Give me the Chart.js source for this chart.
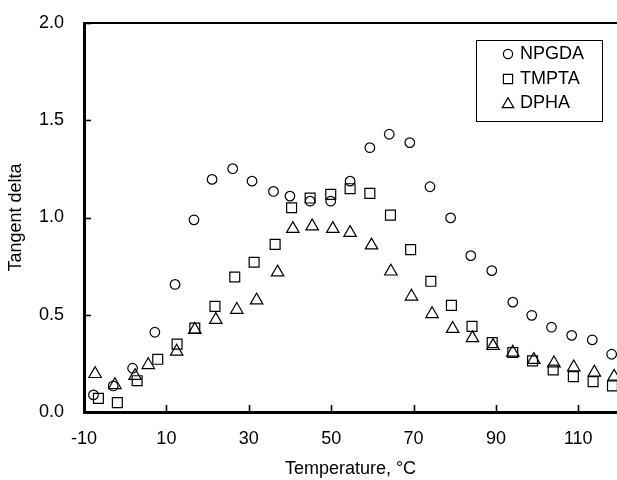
<!DOCTYPE html>
<html>
<head>
<meta charset="utf-8">
<script src="https://cdn.jsdelivr.net/npm/chart.js@4"></script>
<style>
html,body{margin:0;padding:0;background:#fff;overflow:hidden;}
#wrap{width:617px;height:480px;}
</style>
</head>
<body>
<div id="wrap"><canvas id="c" width="617" height="480"></canvas></div>
<script>
// Temperatures (°C) and tangent delta values
const npgdaT = [-7.7,-2.9,1.8,7.2,12.1,16.7,21.1,26.1,30.8,36.0,40.0,44.9,49.9,54.6,59.4,64.1,69.1,74.0,79.0,83.9,89.0,94.1,98.7,103.5,108.4,113.4,118.1];
const npgdaD = [0.088,0.134,0.225,0.41,0.656,0.988,1.196,1.251,1.187,1.134,1.11,1.084,1.084,1.187,1.359,1.428,1.385,1.158,0.998,0.804,0.727,0.565,0.497,0.436,0.394,0.371,0.297];

const tmptaT = [-6.5,-1.9,2.9,7.9,12.6,16.9,21.8,26.6,31.3,36.4,40.4,44.9,49.9,54.6,59.4,64.4,69.3,74.2,79.2,84.2,89.1,94.1,98.9,103.9,108.8,113.6,118.3];
const tmptaD = [0.07,0.048,0.161,0.271,0.349,0.431,0.543,0.694,0.77,0.862,1.05,1.10,1.119,1.148,1.124,1.012,0.835,0.672,0.548,0.44,0.357,0.306,0.263,0.216,0.182,0.156,0.134];

const dphaT = [-7.3,-2.5,2.4,5.6,12.5,16.9,22.0,27.1,31.9,37.0,40.7,45.4,50.4,54.6,59.8,64.5,69.5,74.5,79.5,84.3,89.3,94.1,99.2,104.1,108.9,113.9,118.7];
const dphaD = [0.196,0.139,0.186,0.242,0.311,0.423,0.474,0.526,0.574,0.718,0.942,0.955,0.942,0.921,0.857,0.723,0.594,0.504,0.428,0.38,0.34,0.306,0.268,0.251,0.23,0.203,0.182];

const seriesNames = ['NPGDA','TMPTA','DPHA'];
const xTickValues = [-10,10,30,50,70,90,110];
const yTickValues = [0,0.5,1.0,1.5,2.0];

const FONT = "'Liberation Sans', Arial, sans-serif";

function pts(xs, ys){ return xs.map((x,i)=>({x:x,y:ys[i]})); }

const styles = [
  {pointStyle:'circle', r:4.8},
  {pointStyle:'rect', r:7},
  {pointStyle:'triangle', r:7.2}
];
const raw = [[npgdaT,npgdaD],[tmptaT,tmptaD],[dphaT,dphaD]];

const datasets = raw.map((d,i)=>({
  label: seriesNames[i],
  data: pts(d[0], d[1]),
  pointStyle: styles[i].pointStyle,
  pointRadius: styles[i].r,
  pointHoverRadius: styles[i].r,
  pointBorderColor: '#000',
  pointBackgroundColor: 'rgba(0,0,0,0)',
  pointBorderWidth: 1.2,
  showLine: false
}));

const framePlugin = {
  id: 'frame',
  afterDraw(chart){
    const ctx = chart.ctx;
    const a = chart.chartArea;
    const xs = chart.scales.x, ys = chart.scales.y;
    ctx.save();
    ctx.strokeStyle = '#000';
    // top border
    ctx.lineWidth = 2;
    ctx.beginPath();
    ctx.moveTo(a.left, a.top);
    ctx.lineTo(a.right, a.top);
    ctx.stroke();
    // inward tick marks
    ctx.lineWidth = 1.6;
    xTickValues.forEach(v=>{
      const px = Math.round(xs.getPixelForValue(v)) + 0.5;
      ctx.beginPath();
      ctx.moveTo(px, a.bottom);
      ctx.lineTo(px, a.bottom - 7);
      ctx.stroke();
    });
    yTickValues.forEach(v=>{
      const py = Math.round(ys.getPixelForValue(v)) + 0.5;
      ctx.beginPath();
      ctx.moveTo(a.left, py);
      ctx.lineTo(a.left + 7, py);
      ctx.stroke();
    });
    // legend
    const bx = 476.5, by = 40.5, bw = 126, bh = 81;
    ctx.fillStyle = '#fff';
    ctx.fillRect(bx, by, bw, bh);
    ctx.lineWidth = 1;
    ctx.strokeRect(bx, by, bw, bh);
    const rowY = [54, 79, 103];
    ctx.font = '18px ' + FONT;
    ctx.textBaseline = 'middle';
    ctx.textAlign = 'left';
    chart.data.datasets.forEach((ds,i)=>{
      ctx.lineWidth = 1.2;
      ctx.strokeStyle = '#000';
      const mx = 508, my = rowY[i];
      ctx.beginPath();
      if (ds.pointStyle === 'circle') {
        ctx.arc(mx, my, 4.6, 0, Math.PI*2);
      } else if (ds.pointStyle === 'rect') {
        ctx.rect(mx - 4.6, my - 4.6, 9.2, 9.2);
      } else {
        const r = 6.6;
        ctx.moveTo(mx, my - r*0.8);
        ctx.lineTo(mx + r*0.866, my + r*0.7);
        ctx.lineTo(mx - r*0.866, my + r*0.7);
        ctx.closePath();
      }
      ctx.stroke();
      ctx.fillStyle = '#000';
      ctx.fillText(ds.label, 520, rowY[i]);
    });
    ctx.restore();
  }
};

new Chart(document.getElementById('c'), {
  type: 'scatter',
  data: { datasets },
  options: {
    responsive: false,
    animation: false,
    events: [],
    layout: { autoPadding: false, padding: { top: 23, right: 0, left: 0, bottom: 0 } },
    plugins: { legend: { display: false }, tooltip: { enabled: false } },
    scales: {
      x: {
        type: 'linear',
        min: -10,
        max: 119.4,
        afterFit(s){ s.height = 68; s.paddingLeft = 0; s.paddingRight = 0; s.paddingTop = 0; s.paddingBottom = 0; },
        afterBuildTicks(s){ s.ticks = xTickValues.map(v=>({value:v})); },
        ticks: { color: '#000', font: { family: FONT, size: 18 }, padding: 16, maxRotation: 0, autoSkip: false,
                 callback: v => String(v) },
        grid: { display: false, drawTicks: false },
        border: { display: true, color: '#000', width: 3 },
        title: { display: true, text: 'Temperature, °C', color: '#000', font: { family: FONT, size: 18 }, padding: { top: 0, bottom: 0 } }
      },
      y: {
        type: 'linear',
        min: 0,
        max: 2,
        afterFit(s){ s.width = 84; s.paddingTop = 0; s.paddingBottom = 0; s.paddingLeft = 0; s.paddingRight = 0; },
        afterBuildTicks(s){ s.ticks = yTickValues.map(v=>({value:v})); },
        ticks: { color: '#000', font: { family: FONT, size: 18 }, padding: 20,
                 callback: v => Number(v).toFixed(1) },
        grid: { display: false, drawTicks: false },
        border: { display: true, color: '#000', width: 3 },
        title: { display: true, text: 'Tangent delta', color: '#000', font: { family: FONT, size: 18 }, padding: { top: 5, bottom: 0 } }
      }
    }
  },
  plugins: [framePlugin]
});
</script>
</body>
</html>
